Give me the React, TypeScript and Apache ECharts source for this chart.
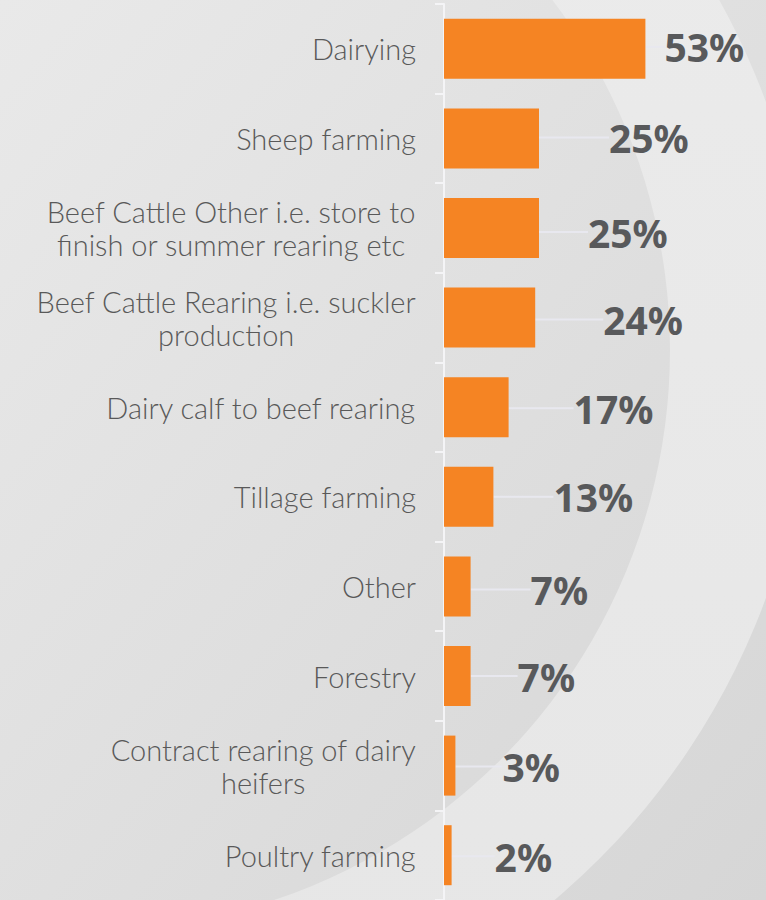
import React, { useEffect, useRef } from "react";
import * as echarts from "echarts";

const categories = [
  "Dairying",
  "Sheep farming",
  "Beef Cattle Other i.e. store to\nfinish or summer rearing etc",
  "Beef Cattle Rearing i.e. suckler\nproduction",
  "Dairy calf to beef rearing",
  "Tillage farming",
  "Other",
  "Forestry",
  "Contract rearing of dairy\nheifers",
  "Poultry farming",
];
const values = [53, 25, 25, 24, 17, 13, 7, 7, 3, 2];

// label placement (styling only)
const labelShiftX = [0, 51, 30, 49, 46, 41, 41, 28, 28, 24];
const labelShiftY = [-2, -1, 4, 2, 1, 0, 3, 0, 1, 1];

export default function App() {
  const ref = useRef<HTMLDivElement>(null);
  useEffect(() => {
    document.body.style.margin = "0";
    const chart = echarts.init(ref.current!, null, { renderer: "svg" });
    chart.setOption({
      animation: false,
      graphic: [
        {
          type: "rect",
          z: -20,
          silent: true,
          shape: { x: 0, y: 0, width: 766, height: 900 },
          style: {
            fill: {
              type: "linear",
              x: 0,
              y: 0,
              x2: 1,
              y2: 1,
              colorStops: [
                { offset: 0, color: "#e9e9e9" },
                { offset: 1, color: "#d6d6d6" },
              ],
            },
          },
        },
        {
          type: "ring",
          z: -19,
          silent: true,
          shape: { cx: 90, cy: 350, r: 720, r0: 580 },
          style: {
            fill: {
              type: "linear",
              x: 0,
              y: 0,
              x2: 0,
              y2: 1,
              colorStops: [
                { offset: 0, color: "#ececec" },
                { offset: 1, color: "#e6e6e6" },
              ],
            },
          },
        },
      ],
      grid: { left: 444, right: 18, top: 4, bottom: 0, containLabel: false },
      xAxis: { type: "value", min: 0, max: 80, show: false },
      yAxis: {
        type: "category",
        inverse: true,
        data: categories,
        axisLine: { show: true, lineStyle: { color: "#f4f4f6", width: 2 } },
        axisTick: { show: true, length: 9, lineStyle: { color: "#f4f4f6", width: 2 } },
        splitLine: { show: false },
        axisLabel: {
          margin: 28,
          align: "right",
          color: "#595959",
          fontFamily: "Lato",
          fontWeight: 300,
          fontSize: 29,
          lineHeight: 33,
          formatter: (v: string) =>
            v
              .split("\n")
              .map((l) => `{c|${l}}`)
              .join("\n"),
          rich: {
            c: {
              align: "center",
              color: "#595959",
              fontFamily: "Lato",
              fontWeight: 300,
              fontSize: 29,
              lineHeight: 33,
            },
          },
        },
      },
      series: [
        {
          type: "bar",
          data: values,
          barWidth: 60,
          itemStyle: { color: "#f58423" },
          label: {
            show: true,
            position: "right",
            distance: 11,
            padding: [0, 0, 0, 8],
            formatter: "{c}%",
            color: "#58595b",
            fontFamily: "Noto Sans",
            fontWeight: 700,
            fontSize: 39,
          },
          labelLine: {
            show: true,
            lineStyle: { color: "#e8e8ef", width: 2 },
          },
          labelLayout: (p: any) => ({
            dx: labelShiftX[p.dataIndex],
            dy: labelShiftY[p.dataIndex],
          }),
        },
      ],
    });
    return () => chart.dispose();
  }, []);
  return <div ref={ref} style={{ width: 766, height: 900 }} />;
}
